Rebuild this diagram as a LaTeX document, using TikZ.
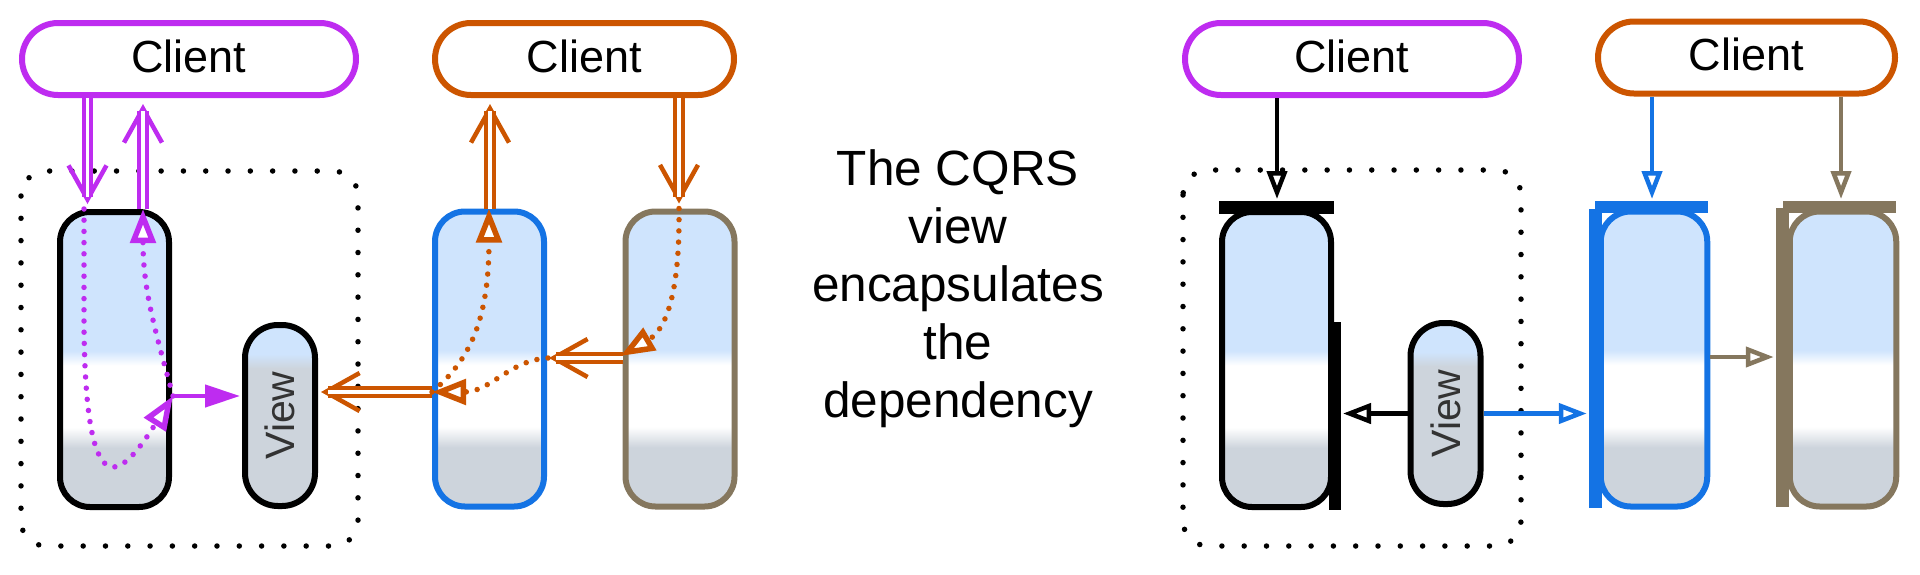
\documentclass[tikz,border=0pt]{standalone}
\usepackage{fontspec}
\setmainfont{Liberation Sans}
\usetikzlibrary{arrows.meta,calc}
\definecolor{purp}{RGB}{190,44,240}
\definecolor{orng}{RGB}{204,85,0}
\definecolor{blu}{RGB}{20,115,228}
\definecolor{brwn}{RGB}{133,119,94}
\definecolor{cb}{RGB}{207,228,253}
\definecolor{cg}{RGB}{205,212,220}
\definecolor{vtext}{RGB}{51,51,51}
\pgfdeclareverticalshading{tallshade}{100bp}{color(0bp)=(cg); color(35bp)=(cg); color(38.5bp)=(white); color(49bp)=(white); color(51.5bp)=(cb); color(100bp)=(cb)}
\pgfdeclareverticalshading{viewshade}{100bp}{color(0bp)=(cg); color(63bp)=(cg); color(67bp)=(cb); color(100bp)=(cb)}
\tikzset{
  client/.style={draw=#1, line width=6pt, fill=white, rounded corners=36pt, minimum height=72pt, text depth=6pt, inner sep=0pt, font=\fontsize{45pt}{45pt}\selectfont},
  tall/.style={draw=#1, line width=6pt, rounded corners=30pt, minimum width=109pt, minimum height=295pt, shading=tallshade, inner sep=0pt},
  viewbox/.style={draw=black, line width=6pt, rounded corners=33pt, minimum width=70pt, minimum height=181pt, shading=viewshade, inner sep=0pt, text=vtext, font=\fontsize{41pt}{41pt}\selectfont},
  dotbox/.style={draw=black, line width=5.5pt, line cap=round, dash pattern=on 0pt off 22.3pt, rounded corners=25pt},
  dotp/.style={draw=#1, line width=5.5pt, line cap=round, dash pattern=on 0pt off 11.2pt, -{Triangle[length=34pt,width=25pt,fill=white]}},
  dbl/.style={draw=#1, line width=3.8pt, double=white, double distance=3.5pt, shorten >=7pt},
  barbl/.style={draw=#1, line width=4.5pt, -{Straight Barb[length=34pt,width=38pt]}},
  opentri/.style={draw=#1, line width=4.5pt, -{Triangle[length=28pt,width=20pt,fill=white]}},
  filltri/.style={draw=#1, fill=#1, line width=4.5pt, -{Triangle[length=35pt,width=22pt]}}
}
\begin{document}
\begin{tikzpicture}[x=1pt,y=-1pt]
\useasboundingbox (0,0) rectangle (1920,574);
% dotted boundaries
\draw[dotbox] (21,171) rectangle (358,546);
\draw[dotbox] (1183,170) rectangle (1521,546);
% clients
\node[client=purp, minimum width=334pt] (c1) at (189,59) {Client};
\node[client=orng, minimum width=299pt] (c2) at (584.5,59) {Client};
\node[client=purp, minimum width=334pt] (c3) at (1352,59) {Client};
\node[client=orng, minimum width=297pt] (c4) at (1746.5,57.5) {Client};
% left components
\node[tall=black] (L1) at (114.5,359.5) {};
\node[viewbox] (VL) at (280,415.5) {\rotatebox{90}{View}};
\node[tall=blu] (BL) at (489.5,359) {};
\node[tall=brwn] (WL) at (680,359) {};
% right components
\node[tall=black] (R1) at (1276.5,359.5) {};
\node[viewbox] (VR) at (1445.5,413.5) {\rotatebox{90}{View}};
\node[tall=blu, minimum width=106.5pt] (BR) at (1654,359) {};
\node[tall=brwn, minimum width=106.5pt] (WR) at (1843,359) {};
% middle text
\node[anchor=north, align=center, inner sep=0pt, font=\fontsize{49.5pt}{58pt}\selectfont] (txt) at (958,149) {The CQRS\\view\\encapsulates\\the\\dependency};
% bars (right)
\fill[black] (1219,201) rectangle (1334,214);
\fill[black] (1329,322) rectangle (1341,510);
\fill[blu] (1595,201) rectangle (1708,213);
\fill[blu] (1589,209) rectangle (1602,508);
\fill[brwn] (1783,201) rectangle (1896,213);
\fill[brwn] (1776,208) rectangle (1789,507);
% ---- left purple flow
\draw[barbl=purp] ($(c1.south)+(-101.5,0)$) -- ($(L1.north)+(-27,-5)$);
\draw[dbl=purp] ($(c1.south)+(-101.5,0)$) -- ($(L1.north)+(-27,-5)$);
\draw[dotp=purp] ($(L1.north)+(-30.5,0)$) -- ($(L1.north)+(-30.5,119)$) .. controls (86,510) and (120,480) .. ($(L1.east)+(1,36.5)$);
\draw[filltri=purp] ($(L1.east)+(1,36.5)$) -- ($(VL.west)+(-2,-19.5)$);
\draw[dotp=purp] ($(L1.east)+(1,36.5)$) .. controls (155,330) and (143,290) .. ($(L1.north)+(28.5,0)$);
\draw[barbl=purp] ($(L1.north)+(28.5,0)$) -- ($(c1.south)+(-46,6)$);
\draw[dbl=purp] ($(L1.north)+(28.5,0)$) -- ($(c1.south)+(-46,6)$);
% ---- left orange flow
\draw[barbl=orng] ($(c2.south)+(94.5,0)$) -- ($(WL.north)+(-1,-5)$);
\draw[dbl=orng] ($(c2.south)+(94.5,0)$) -- ($(WL.north)+(-1,-5)$);
\draw[dotp=orng] ($(WL.north)+(-1,0)$) .. controls (680,290) and (667,329) .. ($(WL.west)+(-2,-3)$);
\draw[barbl=orng] ($(WL.west)+(0,-1)$) -- ($(BL.east)+(2,-1)$);
\draw[dbl=orng] ($(WL.west)+(0,-1)$) -- ($(BL.east)+(2,-1)$);
\draw[dotp=orng] ($(BL.east)+(1,-1)$) .. controls (510,360) and (490,392) .. ($(BL.west)+(0,33)$);
\draw[barbl=orng] ($(BL.west)+(0,33)$) -- ($(VL.east)+(3,-23.5)$);
\draw[dbl=orng] ($(BL.west)+(0,33)$) -- ($(VL.east)+(3,-23.5)$);
\draw[dotp=orng] ($(BL.west)+(0,33)$) .. controls (470,360) and (489,320) .. ($(BL.north)+(-0.5,0)$);
\draw[barbl=orng] ($(BL.north)+(0.5,0)$) -- ($(c2.south)+(-94.5,6)$);
\draw[dbl=orng] ($(BL.north)+(0.5,0)$) -- ($(c2.south)+(-94.5,6)$);
% ---- right dependencies
\draw[opentri=black] ($(c3.south)+(-75,0)$) -- ($(R1.north)+(0.5,-10)$);
\draw[opentri=black] (VR.west) -- ($(R1.east)+(9,54)$);
\draw[opentri=blu] ($(c4.south)+(-94.5,0)$) -- ($(BR.north)+(-2,-9.5)$);
\draw[opentri=blu] (VR.east) -- ($(BR.west)+(-11,54.5)$);
\draw[opentri=brwn] ($(c4.south)+(94.5,0)$) -- ($(WR.north)+(-2,-9.5)$);
\draw[opentri=brwn] ($(BR.east)+(0,-2)$) -- ($(WR.west)+(-13,-2)$);
\end{tikzpicture}
\end{document}
